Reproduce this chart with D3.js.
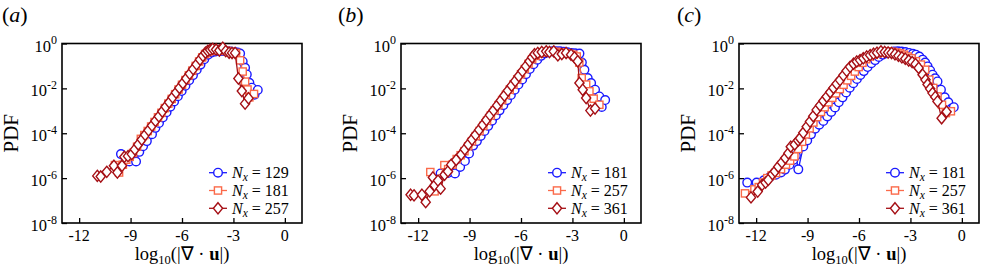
<!DOCTYPE html>
<html>
<head>
<meta charset="utf-8">
<script src="https://cdn.jsdelivr.net/npm/d3@7"></script>
<style>
  body { margin: 0; background: #fff; }
  svg { display: block; }
</style>
</head>
<body>
<div id="chart"></div>
<script>
// axis ticks (x = log10|div u|, y = log10 PDF)
const xTicks = [-12, -9, -6, -3, 0];
const yTicks = [0, -2, -4, -6, -8];
const panelNames = ["a", "b", "c"];
const legendA = [129, 181, 257];
const legendBC = [181, 257, 361];

// panel (a): [x, log10 PDF]
const aNx129 = [[-9.56,-4.93],[-9.30,-5.10],[-9.07,-5.26],[-8.85,-5.05],[-8.68,-5.26],[-8.49,-4.83],[-8.27,-4.58],[-8.05,-4.35],[-7.75,-4.04],[-7.55,-3.76],[-7.34,-3.54],[-7.12,-3.30],[-6.90,-3.06],[-6.68,-2.82],[-6.46,-2.58],[-6.24,-2.35],[-6.02,-2.12],[-5.80,-1.88],[-5.58,-1.64],[-5.36,-1.41],[-5.14,-1.17],[-4.92,-0.94],[-4.70,-0.70],[-4.48,-0.50],[-4.26,-0.40],[-4.04,-0.36],[-3.82,-0.34],[-3.60,-0.33],[-3.38,-0.34],[-3.16,-0.36],[-2.94,-0.38],[-2.76,-0.40],[-2.61,-0.45],[-2.46,-0.80],[-2.32,-1.08],[-2.22,-1.38],[-2.07,-1.75],[-1.93,-1.97],[-1.77,-2.28],[-1.58,-2.07]];
const aNx181 = [[-9.91,-5.42],[-9.67,-5.75],[-9.45,-5.40],[-9.25,-5.18],[-9.05,-5.05],[-8.85,-4.88],[-8.62,-4.60],[-8.40,-4.25],[-8.20,-4.08],[-8.00,-3.90],[-7.80,-3.70],[-7.60,-3.50],[-7.40,-3.29],[-7.20,-3.09],[-7.00,-2.88],[-6.80,-2.68],[-6.60,-2.47],[-6.40,-2.26],[-6.20,-2.05],[-6.00,-1.84],[-5.80,-1.63],[-5.60,-1.42],[-5.40,-1.21],[-5.20,-1.00],[-5.00,-0.80],[-4.82,-0.62],[-4.65,-0.47],[-4.48,-0.38],[-4.30,-0.33],[-4.12,-0.30],[-3.94,-0.30],[-3.76,-0.30],[-3.58,-0.31],[-3.40,-0.33],[-3.22,-0.36],[-3.04,-0.40],[-2.85,-0.42],[-2.61,-0.75],[-2.46,-1.25],[-2.32,-1.70],[-2.18,-2.05],[-2.07,-2.40],[-1.80,-2.25]];
const aNx257 = [[-10.94,-5.90],[-10.74,-5.93],[-10.39,-5.72],[-9.97,-5.45],[-9.77,-5.75],[-9.50,-5.45],[-9.36,-5.05],[-9.15,-5.02],[-8.93,-4.93],[-8.75,-4.72],[-8.55,-4.50],[-8.35,-4.28],[-8.15,-4.07],[-7.95,-3.87],[-7.75,-3.66],[-7.55,-3.45],[-7.35,-3.25],[-7.15,-3.03],[-6.95,-2.82],[-6.75,-2.62],[-6.55,-2.40],[-6.35,-2.19],[-6.15,-1.98],[-5.95,-1.77],[-5.75,-1.56],[-5.55,-1.35],[-5.35,-1.14],[-5.15,-0.93],[-4.95,-0.72],[-4.78,-0.55],[-4.63,-0.41],[-4.50,-0.33],[-4.36,-0.28],[-4.21,-0.24],[-4.01,-0.27],[-3.82,-0.31],[-3.62,-0.19],[-3.45,-0.34],[-3.25,-0.41],[-3.08,-0.42],[-2.90,-0.42],[-2.71,-1.56],[-2.51,-2.12],[-2.32,-2.68],[-2.12,-2.44]];

// panel (b)
const bNx181 = [[-10.69,-5.79],[-10.26,-5.77],[-9.85,-5.79],[-9.55,-5.50],[-9.27,-5.24],[-9.03,-4.90],[-8.79,-4.55],[-8.57,-4.35],[-8.35,-4.12],[-8.13,-3.90],[-7.91,-3.67],[-7.69,-3.44],[-7.47,-3.21],[-7.25,-2.98],[-7.03,-2.75],[-6.81,-2.52],[-6.59,-2.29],[-6.37,-2.06],[-6.15,-1.83],[-5.93,-1.60],[-5.71,-1.37],[-5.49,-1.14],[-5.27,-0.92],[-5.05,-0.72],[-4.83,-0.55],[-4.61,-0.44],[-4.39,-0.38],[-4.17,-0.35],[-3.95,-0.34],[-3.73,-0.35],[-3.51,-0.37],[-3.29,-0.39],[-3.07,-0.42],[-2.85,-0.44],[-2.59,-0.45],[-2.45,-0.85],[-2.30,-1.17],[-2.11,-1.54],[-1.91,-1.76],[-1.68,-2.06],[-1.43,-2.36],[-1.29,-2.83],[-1.09,-2.52]];
const bNx257 = [[-11.29,-5.73],[-11.04,-6.59],[-10.84,-6.20],[-10.47,-5.42],[-10.25,-5.60],[-10.00,-5.40],[-9.75,-5.15],[-9.52,-4.98],[-9.30,-4.80],[-9.08,-4.58],[-8.86,-4.36],[-8.64,-4.13],[-8.42,-3.90],[-8.20,-3.67],[-7.98,-3.44],[-7.76,-3.21],[-7.54,-2.98],[-7.32,-2.75],[-7.10,-2.52],[-6.88,-2.29],[-6.66,-2.06],[-6.44,-1.83],[-6.22,-1.60],[-6.00,-1.37],[-5.78,-1.14],[-5.56,-0.91],[-5.35,-0.70],[-5.15,-0.55],[-4.95,-0.45],[-4.75,-0.40],[-4.55,-0.37],[-4.35,-0.36],[-4.15,-0.36],[-3.95,-0.37],[-3.75,-0.39],[-3.55,-0.41],[-3.35,-0.43],[-3.15,-0.46],[-2.95,-0.50],[-2.75,-0.58],[-2.60,-0.85],[-2.46,-1.54],[-2.20,-1.83],[-2.01,-2.13],[-1.76,-2.46],[-1.43,-2.73]];
const bNx361 = [[-12.44,-6.74],[-12.24,-6.77],[-11.78,-6.74],[-11.56,-7.07],[-11.33,-6.59],[-11.14,-5.97],[-11.04,-6.32],[-10.84,-6.11],[-10.69,-6.47],[-10.46,-5.85],[-10.26,-5.70],[-10.07,-5.40],[-9.78,-5.19],[-9.49,-4.95],[-9.28,-4.72],[-9.07,-4.50],[-8.86,-4.28],[-8.65,-4.07],[-8.44,-3.85],[-8.23,-3.63],[-8.02,-3.41],[-7.81,-3.19],[-7.60,-2.98],[-7.39,-2.76],[-7.18,-2.54],[-6.97,-2.32],[-6.76,-2.10],[-6.55,-1.88],[-6.34,-1.67],[-6.13,-1.45],[-5.92,-1.23],[-5.71,-1.01],[-5.50,-0.79],[-5.35,-0.62],[-5.21,-0.48],[-5.02,-0.42],[-4.79,-0.38],[-4.53,-0.35],[-4.34,-0.38],[-4.09,-0.35],[-3.85,-0.53],[-3.62,-0.47],[-3.37,-0.42],[-3.08,-0.50],[-2.88,-0.62],[-2.69,-0.79],[-2.59,-1.76],[-2.40,-2.06],[-2.20,-2.43],[-1.95,-2.99],[-1.68,-2.90]];

// panel (c)
const cNx181 = [[-12.52,-6.20],[-11.97,-6.20],[-11.55,-6.10],[-11.20,-5.95],[-10.85,-5.85],[-10.55,-5.75],[-10.32,-5.62],[-10.05,-5.40],[-9.83,-5.19],[-9.68,-5.00],[-9.54,-5.61],[-9.25,-4.59],[-9.02,-4.32],[-8.80,-4.05],[-8.56,-3.80],[-8.32,-3.62],[-8.08,-3.45],[-7.85,-3.25],[-7.62,-3.05],[-7.40,-2.85],[-7.18,-2.62],[-6.96,-2.40],[-6.75,-2.18],[-6.54,-1.97],[-6.33,-1.77],[-6.12,-1.58],[-5.92,-1.40],[-5.72,-1.23],[-5.50,-1.05],[-5.28,-0.88],[-5.06,-0.74],[-4.84,-0.60],[-4.62,-0.50],[-4.40,-0.43],[-4.18,-0.39],[-3.96,-0.36],[-3.74,-0.35],[-3.52,-0.36],[-3.30,-0.38],[-3.08,-0.42],[-2.86,-0.46],[-2.68,-0.50],[-2.48,-0.58],[-2.29,-0.72],[-2.14,-0.85],[-2.00,-1.02],[-1.85,-1.20],[-1.71,-1.39],[-1.56,-1.55],[-1.42,-1.69],[-1.22,-2.06],[-1.00,-2.40],[-0.79,-2.62],[-0.60,-2.90],[-0.47,-2.84]];
const cNx257 = [[-12.65,-6.68],[-12.10,-6.50],[-11.85,-6.40],[-11.60,-6.20],[-11.35,-6.00],[-11.10,-5.88],[-10.84,-5.77],[-10.55,-5.60],[-10.26,-5.40],[-10.02,-5.22],[-9.77,-5.03],[-9.55,-4.70],[-9.32,-4.38],[-9.10,-4.05],[-8.88,-3.78],[-8.66,-3.52],[-8.44,-3.28],[-8.22,-3.05],[-8.00,-2.84],[-7.78,-2.62],[-7.56,-2.42],[-7.34,-2.22],[-7.12,-2.03],[-6.90,-1.84],[-6.68,-1.64],[-6.46,-1.44],[-6.24,-1.25],[-6.02,-1.05],[-5.80,-0.86],[-5.58,-0.70],[-5.36,-0.58],[-5.14,-0.50],[-4.92,-0.44],[-4.70,-0.40],[-4.48,-0.37],[-4.26,-0.36],[-4.04,-0.37],[-3.82,-0.40],[-3.60,-0.44],[-3.38,-0.50],[-3.16,-0.58],[-2.94,-0.66],[-2.68,-0.79],[-2.39,-0.94],[-2.14,-1.17],[-1.90,-1.61],[-1.67,-1.98],[-1.42,-2.36],[-1.16,-2.73],[-0.93,-3.10],[-0.64,-3.02]];
const cNx361 = [[-12.30,-6.86],[-11.91,-6.60],[-11.65,-6.30],[-11.45,-6.20],[-11.29,-6.08],[-11.05,-5.82],[-10.90,-5.70],[-10.71,-5.49],[-10.50,-5.30],[-10.30,-5.10],[-10.12,-4.89],[-9.98,-4.60],[-9.75,-4.50],[-9.55,-4.32],[-9.44,-4.22],[-9.25,-3.98],[-9.05,-3.71],[-8.86,-3.48],[-8.67,-3.24],[-8.47,-2.96],[-8.27,-2.76],[-8.08,-2.56],[-7.88,-2.37],[-7.68,-2.17],[-7.49,-1.98],[-7.30,-1.80],[-7.11,-1.63],[-6.91,-1.42],[-6.72,-1.22],[-6.52,-1.04],[-6.32,-0.90],[-6.13,-0.80],[-5.94,-0.74],[-5.75,-0.66],[-5.55,-0.58],[-5.35,-0.52],[-5.15,-0.46],[-4.95,-0.41],[-4.72,-0.35],[-4.50,-0.38],[-4.30,-0.40],[-4.10,-0.42],[-3.90,-0.48],[-3.70,-0.55],[-3.50,-0.62],[-3.30,-0.68],[-3.10,-0.76],[-2.90,-0.83],[-2.70,-0.92],[-2.52,-1.09],[-2.29,-1.39],[-2.12,-1.62],[-2.00,-1.83],[-1.85,-2.02],[-1.71,-2.21],[-1.55,-2.38],[-1.42,-2.58],[-1.18,-3.33],[-0.89,-3.04]];

const panelSeries = [
  [aNx129, aNx181, aNx257],
  [bNx181, bNx257, bNx361],
  [cNx181, cNx257, cNx361]
];
const panelLegends = [legendA, legendBC, legendBC];

const colors = ["#1a1aff", "#fb6a4a", "#a50f15"];
const markers = ["circle", "square", "diamond"];

const W = 996, H = 274;
const lefts = [62, 401, 739];
const letterX = [2, 338, 677];
const plotTop = 43.5, pw = 240, ph = 179.5;
const serif = "'Liberation Serif', 'Times New Roman', Times, serif";

const svg = d3.select("#chart").append("svg")
  .attr("width", W).attr("height", H)
  .attr("font-family", serif);

function drawMarker(g, type, color) {
  if (type === "circle") {
    g.append("circle").attr("r", 4.3);
  } else if (type === "square") {
    g.append("rect").attr("x", -3.6).attr("y", -3.6).attr("width", 7.2).attr("height", 7.2);
  } else {
    g.append("path").attr("d", "M0,-5.6L4.6,0L0,5.6L-4.6,0Z");
  }
  g.selectAll("*").attr("fill", "#fff").attr("stroke", color).attr("stroke-width", 1.4);
}

panelSeries.forEach((series, pi) => {
  const g = svg.append("g").attr("transform", `translate(${lefts[pi]},${plotTop})`);

  const x = d3.scaleLinear().domain([-13, 1]).range([0, pw]);
  const y = d3.scaleLinear().domain([-8, 0]).range([ph, 0]);

  // ticks pointing inward
  g.append("g").attr("transform", `translate(0,${ph})`)
    .call(d3.axisBottom(x).tickValues(xTicks).tickSize(-5).tickFormat(""))
    .call(a => a.select(".domain").remove())
    .call(a => a.selectAll("line").attr("stroke", "#000").attr("stroke-width", 1.3));
  g.append("g")
    .call(d3.axisLeft(y).tickValues(yTicks).tickSize(-5).tickFormat(""))
    .call(a => a.select(".domain").remove())
    .call(a => a.selectAll("line").attr("stroke", "#000").attr("stroke-width", 1.3));

  g.append("rect").attr("width", pw).attr("height", ph)
    .attr("fill", "none").attr("stroke", "#000").attr("stroke-width", 1.6);

  // x tick labels
  g.selectAll(".xl").data(xTicks).enter().append("text")
    .attr("x", d => x(d)).attr("y", ph + 18)
    .attr("text-anchor", "middle").attr("font-size", 16)
    .text(d => String(d));

  // y tick labels 10^k
  const yl = g.selectAll(".yl").data(yTicks).enter().append("text")
    .attr("x", -5).attr("y", d => y(d) + 8)
    .attr("text-anchor", "end").attr("font-size", 16.5);
  yl.append("tspan").text("10");
  yl.append("tspan").attr("dy", -7.5).attr("font-size", 12).text(d => String(d));

  // axis titles
  g.append("text")
    .attr("transform", `translate(${-44},${ph / 2}) rotate(-90)`)
    .attr("text-anchor", "middle").attr("font-size", 21).text("PDF");

  const xt = g.append("text").attr("x", pw / 2).attr("y", ph + 37)
    .attr("text-anchor", "middle").attr("font-size", 18.5);
  xt.append("tspan").text("log");
  xt.append("tspan").attr("dy", 4).attr("font-size", 12.5).text("10");
  xt.append("tspan").attr("dy", -4).text("(|\u2207 \u00b7 ");
  xt.append("tspan").attr("font-weight", "bold").text("u");
  xt.append("tspan").text("|)");

  // panel letter
  const pl = svg.append("text")
    .attr("x", letterX[pi]).attr("y", 22).attr("font-size", 22);
  pl.append("tspan").text("(");
  pl.append("tspan").attr("font-style", "italic").text(panelNames[pi]);
  pl.append("tspan").text(")");

  // series
  const line = d3.line().x(d => x(d[0])).y(d => y(d[1]));
  series.forEach((data, si) => {
    const sg = g.append("g");
    sg.append("path").datum(data)
      .attr("fill", "none").attr("stroke", colors[si]).attr("stroke-width", 1.3)
      .attr("d", line);
    sg.selectAll("g.m").data(data).enter().append("g")
      .attr("transform", d => `translate(${x(d[0])},${y(d[1])})`)
      .each(function () { drawMarker(d3.select(this), markers[si], colors[si]); });
  });

  // legend
  const leg = g.append("g");
  panelLegends[pi].forEach((n, i) => {
    const ly = 129.2 + i * 17.8;
    const row = leg.append("g").attr("transform", `translate(${pw - 93},${ly})`);
    row.append("line").attr("x1", 0).attr("x2", 18)
      .attr("stroke", colors[i]).attr("stroke-width", 1.3);
    const mg = row.append("g").attr("transform", "translate(9,0)");
    drawMarker(mg, markers[i], colors[i]);
    const t = row.append("text").attr("x", 23).attr("y", 5.5).attr("font-size", 16);
    t.append("tspan").attr("font-style", "italic").text("N");
    t.append("tspan").attr("dy", 3).attr("font-size", 11.5).attr("font-style", "italic").text("x");
    t.append("tspan").attr("dy", -3).attr("dx", 4).text("=");
    t.append("tspan").attr("dx", 4).text(String(n));
  });
});
</script>
</body>
</html>
